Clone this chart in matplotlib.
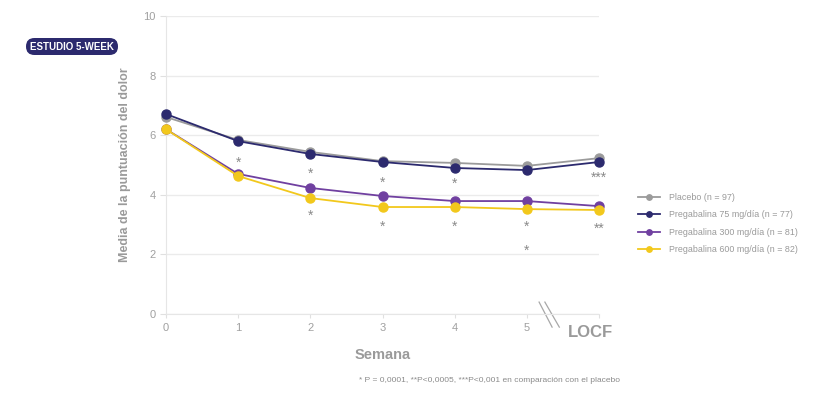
import matplotlib.pyplot as plt
from matplotlib.patches import FancyBboxPatch

plt.rcParams['font.family'] = ['Liberation Sans', 'DejaVu Sans']

weeks = [0, 1, 2, 3, 4, 5, 6]
week_labels = ['0', '1', '2', '3', '4', '5', '']

placebo = [6.61, 5.84, 5.44, 5.13, 5.07, 4.97, 5.23]
preg75 = [6.71, 5.80, 5.37, 5.10, 4.90, 4.83, 5.10]
preg300 = [6.20, 4.70, 4.23, 3.96, 3.79, 3.79, 3.62]
preg600 = [6.20, 4.63, 3.89, 3.59, 3.59, 3.52, 3.49]

series = [placebo, preg75, preg300, preg600]
names = ['Placebo (n = 97)', 'Pregabalina 75 mg/día (n = 77)',
         'Pregabalina 300 mg/día (n = 81)', 'Pregabalina 600 mg/día (n = 82)']
colors = ['#9b9b9b', '#2c2a6e', '#7040a0', '#f2c81c']

# significance marks: (week, y, label)
star_x = [1, 2, 2, 3, 3, 4, 4, 5, 5, 6, 6]
star_y = [5.23, 4.83, 3.42, 4.53, 3.05, 4.50, 3.05, 3.05, 2.25, 4.70, 2.99]
star_txt = ['*', '*', '*', '*', '*', '*', '*', '*', '*', '***', '**']

grey = '#a0a0a0'

fig = plt.figure(figsize=(8.21, 3.97), dpi=100)
ax = fig.add_axes([166/821, 83/397, 433/821, 298/397])

for vals, name, c in zip(series, names, colors):
    ax.plot(weeks, vals, '-o', color=c, lw=1.3, markersize=6.5,
            label=name, clip_on=False, zorder=3)

for x, y, t in zip(star_x, star_y, star_txt):
    ax.annotate(t, (x, y), xytext=(0, -3), textcoords='offset points',
                ha='center', va='center', fontsize=10, color='#8a8a8a')

ax.set_xlim(0, 6)
ax.set_ylim(0, 10)
ax.set_yticks([0, 2, 4, 6, 8, 10])
ax.set_xticks(weeks)
ax.set_xticklabels(week_labels)
ax.yaxis.grid(True, color='#ebebeb', lw=1)
ax.set_axisbelow(True)
for s in ['top', 'right']:
    ax.spines[s].set_visible(False)
for s in ['left', 'bottom']:
    ax.spines[s].set_color('#e6e6e6')
ax.tick_params(colors='#e0e0e0', labelcolor=grey, labelsize=8, length=3)
ax.tick_params(axis='y', length=4)
ax.text(5.88, -0.62, 'LOCF', fontsize=12, fontweight='bold', color='#9a9a9a',
        ha='center', va='center')

# axis break marks
ax.plot([5.17, 5.35], [0.40, -0.44], color='#a8a8a8', lw=0.9, clip_on=False)
ax.plot([5.25, 5.45], [0.40, -0.44], color='#a8a8a8', lw=0.9, clip_on=False)

fig.text(125/821, 1 - 165/397, 'Media de la puntuación del dolor', fontsize=9,
         fontweight='bold', color='#9a9a9a', rotation=90, ha='center', va='center')
fig.text(383/821, 1 - 355/397, 'Semana', fontsize=10.5, fontweight='bold',
         color='#9a9a9a', ha='center', va='center')

fig.text(489/821, 1 - 381/397,
         '* P = 0,0001, **P<0,0005, ***P<0,001 en comparación con el placebo',
         fontsize=6, color='#8a8a8a', ha='center', va='center')

leg = fig.legend(loc='upper left', bbox_to_anchor=(630/821, 1 - 185/397),
                 frameon=False, fontsize=6.4, handlelength=2.5, markerscale=0.6,
                 labelspacing=0.95, handletextpad=1.0)
for t in leg.get_texts():
    t.set_color('#9a9a9a')

badge = FancyBboxPatch((26/821, 1 - 55/397), 92/821, 17/397,
                       boxstyle='round,pad=0,rounding_size=0.0103',
                       transform=fig.transFigure, facecolor='#2c2a6e',
                       edgecolor='none', mutation_aspect=821/397)
fig.patches.append(badge)
fig.text(72/821, 1 - 46.5/397, 'ESTUDIO 5-WEEK', fontsize=7,
         fontweight='bold', color='white', ha='center', va='center')

plt.savefig('out.png', dpi=100)
